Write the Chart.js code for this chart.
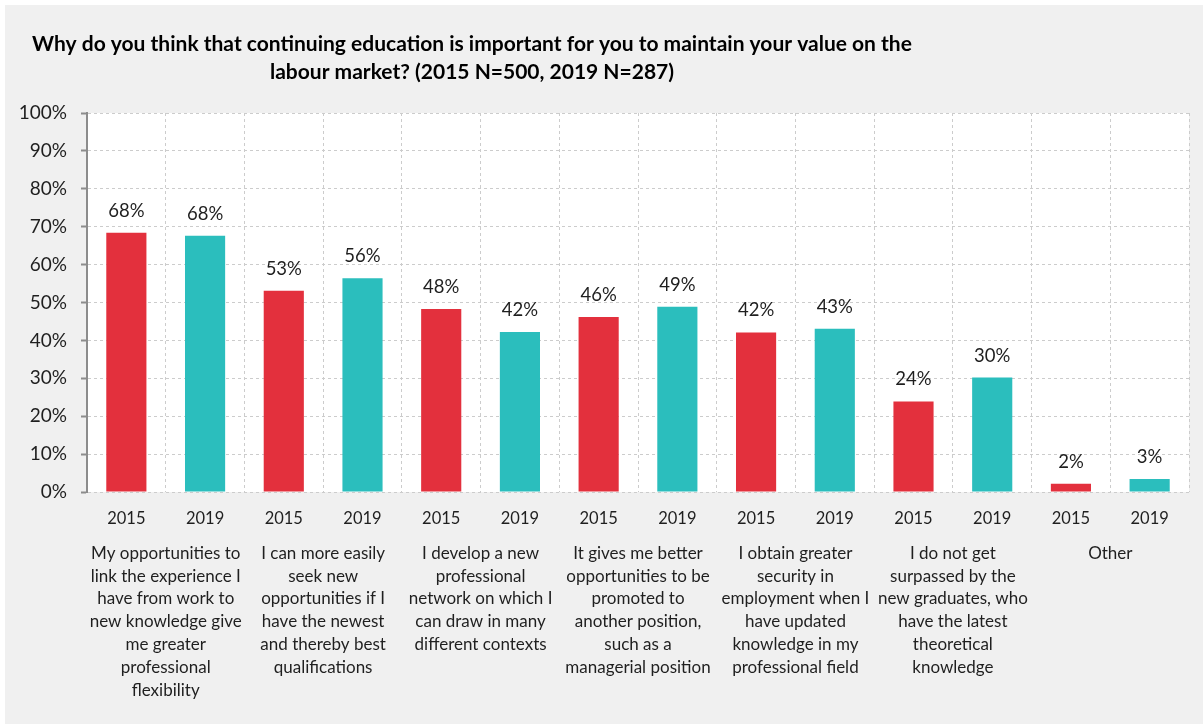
<!DOCTYPE html>
<html>
<head>
<meta charset="utf-8">
<script src="https://cdn.jsdelivr.net/npm/chart.js@4.4.0/dist/chart.umd.min.js"></script>
<style>
  body { margin: 0; background: #ffffff; }
  #wrap { position: absolute; left: 5px; top: 5px; width: 1198px; height: 719px; background: #f0f0f0; }
</style>
</head>
<body>
<div id="wrap"><canvas id="chart"></canvas></div>
<script>
const years = ["2015", "2019"];
const categories = [
  ["My opportunities to", "link the experience I", "have from work to", "new knowledge give", "me greater", "professional", "flexibility"],
  ["I can more easily", "seek new", "opportunities if I", "have the newest", "and thereby best", "qualifications"],
  ["I develop a new", "professional", "network on which I", "can draw in many", "different contexts"],
  ["It gives me better", "opportunities to be", "promoted to", "another position,", "such as a", "managerial position"],
  ["I obtain greater", "security in", "employment when I", "have updated", "knowledge in my", "professional field"],
  ["I do not get", "surpassed by the", "new graduates, who", "have the latest", "theoretical", "knowledge"],
  ["Other"]
];
const values2015 = [68.4, 53.1, 48.3, 46.2, 42.1, 23.9, 2.2];
const values2019 = [67.6, 56.4, 42.2, 48.9, 43.1, 30.2, 3.4];
const yTicks = [0, 10, 20, 30, 40, 50, 60, 70, 80, 90, 100];
const titleLines = [
  "Why do you think that continuing education is important for you to maintain your value on the",
  "labour market? (2015 N=500, 2019 N=287)"
];

const FONT = 'Lato, "Open Sans", sans-serif';
const TEXT = "#1f1f1f";
const RED = "#e3303d";
const TEAL = "#2bbebd";

// interleave 2015 / 2019 per category
const barLabels = [];
const barValues = [];
const barColors = [];
categories.forEach((c, i) => {
  barLabels.push(years[0], years[1]);
  barValues.push(values2015[i], values2019[i]);
  barColors.push(RED, TEAL);
});

const bgPlugin = {
  id: "plotBg",
  beforeDraw(chart) {
    const { ctx, chartArea: a } = chart;
    ctx.save();
    ctx.fillStyle = "#ffffff";
    ctx.fillRect(a.left, a.top, a.right - a.left, a.bottom - a.top);
    ctx.restore();
  }
};

const textPlugin = {
  id: "texts",
  afterDatasetsDraw(chart) {
    const ctx = chart.ctx;
    ctx.save();
    // title
    ctx.fillStyle = "#000000";
    ctx.font = "bold 21px " + FONT;
    ctx.textAlign = "center";
    ctx.textBaseline = "middle";
    ctx.fillText(titleLines[0], 467, 39);
    ctx.fillText(titleLines[1], 467, 67);
    // value labels
    ctx.fillStyle = TEXT;
    ctx.font = "18.5px " + FONT;
    chart.getDatasetMeta(0).data.forEach((bar, i) => {
      ctx.fillText(Math.round(barValues[i]) + "%", bar.x, bar.y - 22);
    });
    ctx.restore();
  }
};

new Chart(document.getElementById("chart"), {
  type: "bar",
  data: {
    labels: barLabels,
    datasets: [{
      data: barValues,
      backgroundColor: barColors,
      barPercentage: 0.51,
      categoryPercentage: 1
    }]
  },
  options: {
    responsive: true,
    maintainAspectRatio: false,
    animation: false,
    layout: { padding: { top: 108, right: 14, left: 0, bottom: 0 } },
    plugins: {
      legend: { display: false },
      tooltip: { enabled: false }
    },
    scales: {
      x: {
        position: "bottom",
        grid: { display: true, offset: true, color: "#cccccc", drawTicks: false },
        border: { display: false, dash: [3, 3] },
        ticks: { color: TEXT, font: { family: FONT, size: 16.5 }, padding: 17, maxRotation: 0, autoSkip: false },
        afterFit(s) { s.height = 45; }
      },
      x2: {
        type: "category",
        position: "bottom",
        labels: categories,
        grid: { display: false, drawTicks: false },
        border: { display: false },
        ticks: { color: TEXT, font: { family: FONT, size: 17, lineHeight: 1.34 }, padding: 5, maxRotation: 0, autoSkip: false },
        afterFit(s) { s.height = 187; }
      },
      y: {
        min: 0,
        max: 100,
        afterBuildTicks(s) { s.ticks = yTicks.map((v) => ({ value: v })); },
        grid: {
          color: "#cccccc",
          tickLength: 6,
          tickColor: "#8c8c8c",
          tickBorderDash: [],
          tickWidth: 2
        },
        border: { display: true, color: "#8c8c8c", width: 2, dash: [3, 3] },
        ticks: {
          color: TEXT,
          font: { family: FONT, size: 19 },
          padding: 14,
          callback: (v) => v + "%"
        },
        afterFit(s) { s.width = 82; }
      }
    }
  },
  plugins: [bgPlugin, textPlugin]
});
</script>
</body>
</html>
